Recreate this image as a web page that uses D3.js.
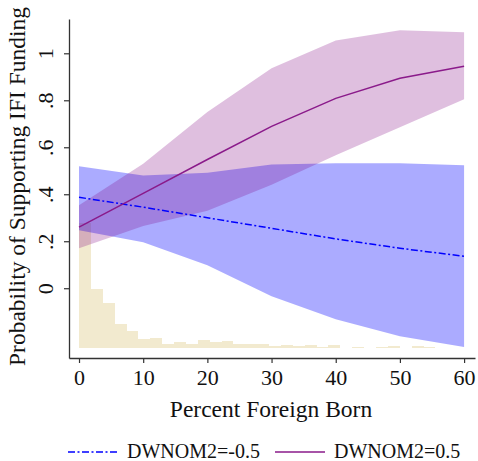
<!DOCTYPE html>
<html>
<head>
<meta charset="utf-8">
<script src="https://cdn.jsdelivr.net/npm/d3@7"></script>
<style>
  body { margin: 0; background: white; }
  svg { display: block; font-family: "Liberation Serif", "Times New Roman", serif; }
</style>
</head>
<body>
<script>
// predicted probabilities by percent foreign born
const xs = [0, 10, 20, 30, 40, 50, 60]
const lowFit = [0.387, 0.345, 0.30, 0.255, 0.21, 0.17, 0.136]      // DWNOM2=-0.5
const lowUpper = [0.519, 0.48, 0.492, 0.527, 0.532, 0.532, 0.523]
const lowLower = [0.247, 0.196, 0.098, -0.034, -0.132, -0.204, -0.25]
const highFit = [0.26, 0.404, 0.548, 0.689, 0.808, 0.894, 0.945]   // DWNOM2=0.5
const highUpper = [0.353, 0.53, 0.75, 0.936, 1.055, 1.098, 1.09]
const highLower = [0.17, 0.265, 0.33, 0.44, 0.566, 0.685, 0.804]

// histogram of percent foreign born (bar heights in y units above base)
const binWidth = 1.851
const histBase = -0.253
const histHeights = [0.532, 0.249, 0.191, 0.100, 0.070, 0.038, 0.043, 0.017, 0.023, 0.017,
  0.032, 0.023, 0.028, 0.017, 0.015, 0.017, 0.009, 0.013, 0.009, 0.013,
  0.004, 0.013, 0, 0.004, 0, 0.004, 0.009, 0, 0.009, 0.004]

const xTicks = [0, 10, 20, 30, 40, 50, 60]
const yTicks = [0, 0.2, 0.4, 0.6, 0.8, 1]
const yTickLabels = ['0', '.2', '.4', '.6', '.8', '1']
const legendLabels = ['DWNOM2=-0.5', 'DWNOM2=0.5']

const width = 478, height = 461

const svg = d3.select('body').append('svg')
  .attr('width', width)
  .attr('height', height)

const x = d3.scaleLinear().domain([-1.56, 61.7]).range([69, 475])
const y = d3.scaleLinear().domain([-0.297, 1.146]).range([358, 19])

// histogram underneath
svg.append('g')
  .selectAll('rect')
  .data(histHeights)
  .enter()
  .append('rect')
  .attr('x', (d, i) => x(i * binWidth))
  .attr('width', x(binWidth) - x(0))
  .attr('y', d => y(histBase + d))
  .attr('height', d => y(histBase) - y(histBase + d))
  .attr('fill', '#f2eacf')
  .attr('shape-rendering', 'crispEdges')

const pts = (lo, hi) => xs.map((v, i) => ({ x: v, lo: lo[i], hi: hi[i] }))
const area = d3.area().x(d => x(d.x)).y0(d => y(d.lo)).y1(d => y(d.hi))

svg.append('path')
  .datum(pts(lowLower, lowUpper))
  .attr('d', area)
  .attr('fill', 'rgb(0,0,255)')
  .attr('fill-opacity', 0.33)

svg.append('path')
  .datum(pts(highLower, highUpper))
  .attr('d', area)
  .attr('fill', 'rgb(128,0,128)')
  .attr('fill-opacity', 0.25)

const line = d3.line().x(d => x(d[0])).y(d => y(d[1]))

svg.append('path')
  .datum(xs.map((v, i) => [v, lowFit[i]]))
  .attr('d', line)
  .attr('fill', 'none')
  .attr('stroke', '#0000ff')
  .attr('stroke-width', 1.5)
  .attr('stroke-dasharray', '7,2.5,2,2.5')

svg.append('path')
  .datum(xs.map((v, i) => [v, highFit[i]]))
  .attr('d', line)
  .attr('fill', 'none')
  .attr('stroke', '#8a1a8a')
  .attr('stroke-width', 1.5)

// axes
const xAxis = svg.append('g')
  .attr('transform', 'translate(0,358)')
  .call(d3.axisBottom(x).tickValues(xTicks).tickSize(5).tickSizeOuter(0))
xAxis.select('.domain').attr('stroke', '#333').attr('stroke-width', 1.3)
xAxis.selectAll('.tick line').attr('stroke', '#333').attr('stroke-width', 1.2)
xAxis.selectAll('.tick text')
  .attr('y', 27)
  .attr('dy', 0)
  .attr('fill', '#111')
  .style('font-family', '"Liberation Serif", serif')
  .style('font-size', '22px')

const yAxis = svg.append('g')
  .attr('transform', 'translate(69,0)')
  .call(d3.axisLeft(y).tickValues(yTicks).tickFormat((d, i) => yTickLabels[i]).tickSize(5).tickSizeOuter(0))
yAxis.select('.domain').attr('stroke', '#333').attr('stroke-width', 1.3)
yAxis.selectAll('.tick line').attr('stroke', '#333').attr('stroke-width', 1.2)
yAxis.selectAll('.tick text')
  .attr('x', 0)
  .attr('dy', 0)
  .attr('transform', 'translate(-16.5,0) rotate(-90)')
  .attr('text-anchor', 'middle')
  .attr('fill', '#111')
  .style('font-family', '"Liberation Serif", serif')
  .style('font-size', '22px')

// titles
svg.append('text')
  .attr('x', 271)
  .attr('y', 417)
  .attr('text-anchor', 'middle')
  .style('font-size', '23.5px')
  .attr('fill', '#111')
  .text('Percent Foreign Born')

svg.append('text')
  .attr('transform', 'translate(25,186.5) rotate(-90)')
  .attr('text-anchor', 'middle')
  .style('font-size', '23.5px')
  .attr('fill', '#111')
  .text('Probability of Supporting IFI Funding')

// legend
const legend = [
  { label: legendLabels[0], color: '#0000ff', dash: '7,2.5,2,2.5', x0: 68 },
  { label: legendLabels[1], color: '#8a1a8a', dash: null, x0: 275 }
]
legend.forEach(l => {
  svg.append('line')
    .attr('x1', l.x0).attr('x2', l.x0 + 50)
    .attr('y1', 452).attr('y2', 452)
    .attr('stroke', l.color)
    .attr('stroke-width', 1.3)
    .attr('stroke-dasharray', l.dash)
  svg.append('text')
    .attr('x', l.x0 + 59)
    .attr('y', 458)
    .style('font-size', '20px')
    .attr('fill', '#111')
    .text(l.label)
})
</script>
</body>
</html>
